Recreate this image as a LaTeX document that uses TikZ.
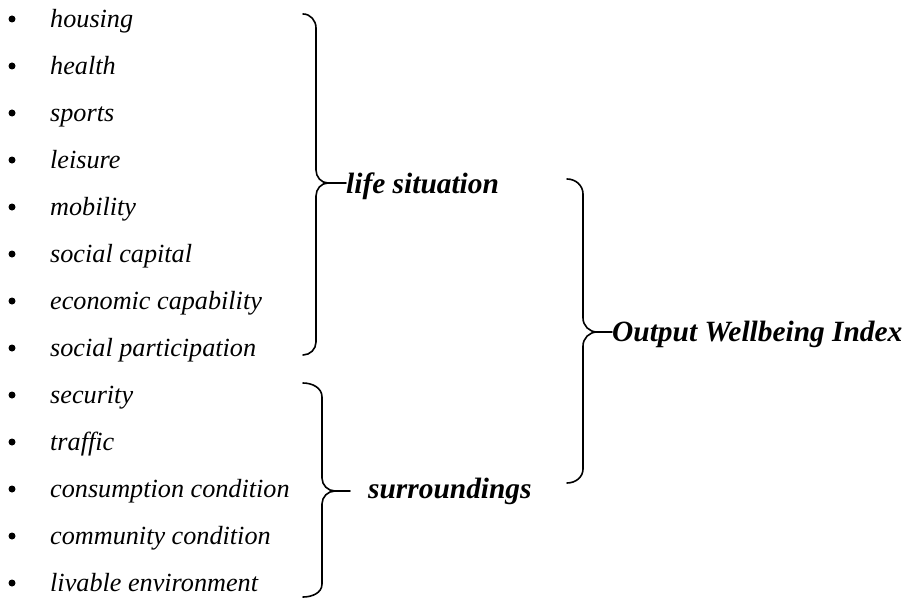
\documentclass[tikz,border=0pt]{standalone}
\usepackage{fontspec}
\setmainfont{Liberation Serif}
\begin{document}
\begin{tikzpicture}[x=1pt,y=-1pt,
  item/.style={anchor=base west,inner sep=0pt,font=\fontsize{26.2}{28}\selectfont\itshape},
  lab/.style={anchor=base west,inner sep=0pt,font=\fontsize{29.4}{32}\selectfont\bfseries\itshape},
  bul/.style={circle,fill=black,inner sep=0pt,minimum size=7pt},
  brace/.style={line width=1.6pt,line cap=round}]
\useasboundingbox (0,0) rectangle (909,599);
\foreach \t [count=\i from 0] in {housing,health,sports,leisure,mobility,social capital,economic capability,social participation,security,traffic,consumption condition,community condition,livable environment}{
  \node[bul] (b\i) at (12,19+47*\i) {};
  \node[item] (t\i) at (50,27.5+47*\i) {\t};
}
\node[lab] (life) at (346,193) {life situation};
\node[lab] (sur) at (368,498) {surroundings};
\node[lab] (owi) at (612,341) {Output Wellbeing Index};
% brace 1
\coordinate (a1) at (303,14);
\coordinate (a2) at (303,355);
\draw[brace] (a1) to[out=0,in=90] (316,28) -- (316,170) to[out=-90,in=180] (328,183) -- (life.west |- 0,183);
\draw[brace] (328,183) to[out=180,in=90] (316,196) -- (316,342) to[out=-90,in=0] (a2);
% brace 2
\coordinate (c1) at (303,383);
\coordinate (c2) at (303,597);
\draw[brace] (c1) to[out=0,in=90] (322,397) -- (322,478) to[out=-90,in=180] (335,491) -- (350,491);
\draw[brace] (335,491) to[out=180,in=90] (322,504) -- (322,584) to[out=-90,in=0] (c2);
% brace 3
\coordinate (d1) at (567,179);
\coordinate (d2) at (567,483);
\draw[brace] (d1) to[out=0,in=90] (583,194) -- (583,318) to[out=-90,in=180] (597,332) -- (owi.west |- 0,332);
\draw[brace] (597,332) to[out=180,in=90] (583,346) -- (583,469) to[out=-90,in=0] (d2);
\end{tikzpicture}
\end{document}
